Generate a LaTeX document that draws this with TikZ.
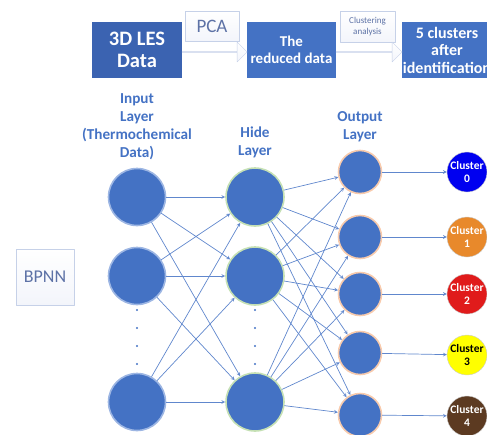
\documentclass[tikz,border=0pt]{standalone}
\usepackage{fontspec}
\setmainfont{Carlito}
\usetikzlibrary{shapes.arrows}
\definecolor{nodeblue}{HTML}{4472C4}
\definecolor{darkbox}{HTML}{3B63B1}
\definecolor{paleline}{HTML}{C6D1E8}
\definecolor{palefill}{HTML}{F3F5FB}
\definecolor{softtext}{HTML}{5D72A6}
\definecolor{glowblue}{HTML}{9DB6E3}
\definecolor{glowgreen}{HTML}{C5E0B4}
\definecolor{gloworange}{HTML}{F8CBAD}
\tikzset{
  stagebox/.style={fill=nodeblue, text=white, font=\bfseries\fontsize{15}{17}\selectfont,
    align=center, minimum width=89pt, minimum height=56pt, inner sep=0pt},
  stepnote/.style={draw=paleline, top color=white, bottom color=palefill, text=softtext,
    align=center, inner sep=1pt},
  flowarrow/.style={single arrow, draw=paleline, top color=white, bottom color=palefill,
    minimum width=20pt, single arrow head extend=5pt, single arrow head indent=0pt,
    inner sep=0pt, shape border rotate=0},
  layerlabel/.style={text=nodeblue, font=\bfseries\fontsize{15.2}{18}\selectfont, align=center},
  neuron/.style={circle, fill=nodeblue, inner sep=0pt, line width=1.6pt},
  link/.style={draw=nodeblue!85, line width=0.7pt, ->},
  clusternode/.style={circle, minimum size=40pt, inner sep=0pt, align=center,
    font=\bfseries\fontsize{11.5}{13}\selectfont},
}
\begin{document}
\begin{tikzpicture}[x=1pt, y=-1pt, >=stealth, line join=round, line cap=round]
  \clip (0,0) rectangle (487,434);
  % top row
  \node[stagebox, fill=darkbox, font=\bfseries\fontsize{20.5}{22}\selectfont,
    minimum width=90pt] (lesdata) at (137,50) {3D LES\\Data};
  \node[stagebox] (reduced) at (291.5,50) {The\\reduced data};
  \node[stagebox, minimum width=90pt, font=\bfseries\fontsize{16}{17.5}\selectfont] (fivecl) at (447,50) {5 clusters\\after\\identification};
  \node[stepnote, minimum width=54pt, minimum height=30pt,
    font=\fontsize{19}{21}\selectfont] (pca) at (212,26) {PCA};
  \node[stepnote, minimum width=55pt, minimum height=31pt,
    font=\fontsize{9}{10.5}\selectfont] (clusan) at (367.5,26.5) {Clustering\\analysis};
  \path (lesdata.east) -- (reduced.west) node[flowarrow, midway, yshift=-2pt, minimum height=65pt] (arrowa) {};
  \path (reduced.east) -- (fivecl.west) node[flowarrow, midway, yshift=-2pt, minimum height=66pt] (arrowb) {};
  % side box
  \node[stepnote, minimum width=58pt, minimum height=56pt,
    font=\fontsize{18}{20}\selectfont] (bpnn) at (45,277) {BPNN};
  % layer labels
  \node[layerlabel] (lblin) at (137,127) {Input\\Layer\\(Thermochemical\\Data)};
  \node[layerlabel] (lblhid) at (255,142) {Hide\\Layer};
  \node[layerlabel] (lblout) at (360,127) {Output\\Layer};
  % neurons
  \foreach \n/\y in {1/197,2/276,3/402}
  {\node[neuron, draw=glowblue, minimum size=57pt] (in\n) at (137,\y) {};
   \node[neuron, draw=glowgreen, minimum size=58pt] (hid\n) at (255,\y) {};}
  \foreach \n/\y in {1/172,2/237,3/294,4/353,5/415}
  {\node[neuron, draw=gloworange, minimum size=43pt] (out\n) at (360,\y) {};}
  \foreach \x in {137,255} {\foreach \y in {310,328,346,364} {\fill[nodeblue] (\x,\y) circle (1.1pt);}}
  % clusters
  \foreach \n/\y/\c/\t in {0/172/0000F0/white,1/237/E8892B/white,2/294/E01B1B/white,3/355/FFFF00/black,4/416/5C3A21/white}
  {\definecolor{cfill}{HTML}{\c}
   \node[clusternode, fill=cfill, text=\t, draw=gray!40] (cl\n) at (467,\y) {Cluster\\\n};}
  % connections
  \foreach \i in {1,2,3} {\foreach \j in {1,2,3} {\draw[link] (in\i) -- (hid\j);}}
  \foreach \i in {1,2,3} {\foreach \j in {1,...,5} {\draw[link] (hid\i) -- (out\j);}}
  \foreach \j/\k in {1/0,2/1,3/2,4/3,5/4} {\draw[link] (out\j) -- (cl\k);}
\end{tikzpicture}
\end{document}
